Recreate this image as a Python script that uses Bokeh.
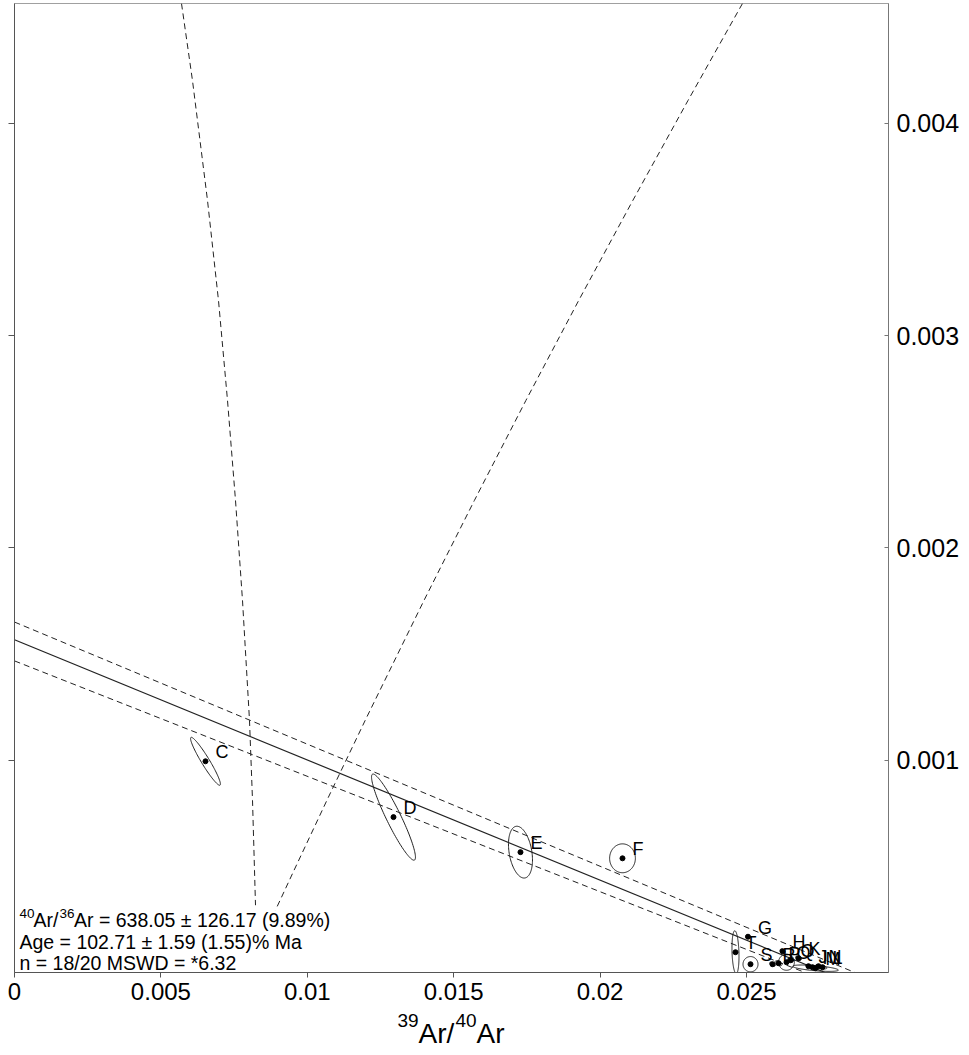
import numpy as np
from bokeh.plotting import figure
from bokeh.layouts import column
from bokeh.models import Range1d, LinearAxis, Label, FixedTicker
from bokeh.core.properties import value
from bokeh.embed import file_html
from bokeh.resources import INLINE

FONT = "Liberation Sans"

# ---- heating steps (inverse isochron, 39Ar/40Ar vs 36Ar/40Ar) ----
step_labels = ["C", "D", "E", "F", "G", "H", "I", "J", "K",
               "L", "M", "N", "O", "P", "Q", "R", "S", "T"]
ar39_ar40 = [0.006523, 0.012944, 0.017281, 0.020765, 0.025051, 0.026230,
             0.027254, 0.027117, 0.026776, 0.027596, 0.027357, 0.027459,
             0.026366, 0.026093, 0.026503, 0.025888, 0.025137, 0.024624]
ar36_ar40 = [0.000995, 0.000732, 0.000567, 0.000538, 0.0001686, 0.0001003,
             0.0000250, 0.0000297, 0.0000673, 0.0000250, 0.0000203, 0.0000297,
             0.0000485, 0.0000438, 0.0000579, 0.0000391, 0.0000391, 0.0000956]
err_39 = [0.00051, 0.00075, 0.00041, 0.00044, 0.00006, 0.00008,
          0.00010, 0.00010, 0.00010, 0.00015, 0.00078, 0.00010,
          0.00027, 0.00012, 0.00010, 0.00010, 0.000256, 0.00012]
err_36 = [0.000113, 0.000203, 0.000122, 0.000068, 0.000008, 0.000010,
          0.000008, 0.000008, 0.000010, 0.000008, 0.000015, 0.000008,
          0.000038, 0.000012, 0.000010, 0.000010, 0.000036, 0.000101]
err_rho = [-0.95, -0.93, -0.30, 0.0, -0.5, -0.5,
           -0.5, -0.5, -0.5, -0.5, -0.6, -0.5,
           0.0, -0.5, -0.5, -0.5, 0.0, -0.2]

# ---- isochron fit and its envelope ----
trapped_ratio = 638.05
x_intercept = 0.02769
upper_env_y0, upper_env_x0 = 0.001651, 0.0287
lower_env_y0, lower_env_x0 = 0.001468, 0.0270

# ---- dashed reference curves ----
curve_a_x = [0.005704, 0.006079, 0.006592, 0.006967, 0.007275, 0.007548,
             0.007787, 0.008026, 0.008129, 0.008197, 0.008231]
curve_a_y = [0.004565, 0.004202, 0.003637, 0.003166, 0.002695, 0.002224,
             0.001753, 0.001188, 0.000811, 0.000482, 0.000317]
curve_b_x = [0.024863, 0.023002, 0.021117, 0.019269, 0.017466, 0.015707,
             0.013986, 0.011978, 0.010669, 0.009549, 0.008914]
curve_b_y = [0.004565, 0.004108, 0.003637, 0.003166, 0.002695, 0.002224,
             0.001753, 0.001188, 0.000811, 0.000482, 0.000294]

# ---- axes ----
x_ticks = [0, 0.005, 0.01, 0.015, 0.02, 0.025]
x_tick_labels = ["0", "0.005", "0.01", "0.015", "0.02", "0.025"]
y_ticks = [0.001, 0.002, 0.003, 0.004]
y_tick_labels = ["0.001", "0.002", "0.003", "0.004"]

stats_lines = ["Ar = 638.05 \u00b1 126.17 (9.89%)",
               "Age = 102.71 \u00b1 1.59 (1.55)% Ma",
               "n = 18/20 MSWD = *6.32"]

# x-axis title pieces: (text, is_superscript)
x_title_parts = [("39", True), ("Ar/", False), ("40", True), ("Ar", False)]

X_END = 0.02985
p = figure(width=969, height=1010,
           x_range=Range1d(0, X_END), y_range=Range1d(0, 0.004565),
           output_backend="svg", toolbar_location=None,
           min_border_left=14, min_border_right=81,
           min_border_top=3, min_border_bottom=38)
p.background_fill_color = "white"
p.border_fill_color = "white"
p.outline_line_color = "#a0a0a0"
p.xgrid.visible = False
p.ygrid.visible = False

AX = "#555555"

xa = p.xaxis[0]
xa.ticker = FixedTicker(ticks=x_ticks)
xa.major_label_overrides = dict(zip(x_ticks, x_tick_labels))
xa.major_label_text_font = FONT
xa.major_label_text_font_size = "24px"
xa.major_label_text_color = "black"
xa.major_label_standoff = 5
xa.major_tick_out = 5
xa.major_tick_in = 0
xa.minor_tick_line_color = None
xa.axis_line_color = AX
xa.major_tick_line_color = AX

ya = p.yaxis[0]
ya.ticker = FixedTicker(ticks=y_ticks)
ya.major_label_overrides = {t: "" for t in y_ticks}
ya.major_label_standoff = 0
ya.major_tick_out = 6
ya.major_tick_in = 0
ya.minor_tick_line_color = None
ya.axis_line_color = AX
ya.major_tick_line_color = AX

ra = LinearAxis(ticker=FixedTicker(ticks=y_ticks))
ra.major_label_overrides = dict(zip(y_ticks, y_tick_labels))
ra.major_label_text_font = FONT
ra.major_label_text_font_size = "25px"
ra.major_label_text_color = "black"
ra.major_label_standoff = 8
ra.major_tick_out = 0
ra.major_tick_in = 4
ra.minor_tick_line_color = None
ra.axis_line_color = "#777777"
ra.major_tick_line_color = "#777777"
p.add_layout(ra, "right")

# reference curves
p.line(curve_a_x, curve_a_y, line_color="#222222", line_width=1, line_dash="6 4")
p.line(curve_b_x, curve_b_y, line_color="#222222", line_width=1, line_dash="6 4")

# isochron and envelope
p.line([0, x_intercept], [1.0 / trapped_ratio, 0], line_color="#222222", line_width=1.2)
p.line([0, upper_env_x0], [upper_env_y0, 0], line_color="#222222", line_width=1, line_dash="6 4")
p.line([0, lower_env_x0], [lower_env_y0, 0], line_color="#222222", line_width=1, line_dash="6 4")

# error ellipses
t = np.linspace(0, 2 * np.pi, 120)
xs, ys = [], []
for cx, cy, sx, sy, r in zip(ar39_ar40, ar36_ar40, err_39, err_36, err_rho):
    xs.append(list(cx + sx * np.cos(t)))
    ys.append(list(cy + sy * (r * np.cos(t) + np.sqrt(1 - r * r) * np.sin(t))))
p.patches(xs, ys, fill_color=None, line_color="#222222", line_width=1)

p.scatter(ar39_ar40, ar36_ar40, size=5, color="black")
p.text(ar39_ar40, ar36_ar40, text=step_labels, x_offset=10, y_offset=-9,
       text_font=value(FONT), text_font_size="18px", text_color="black",
       text_align="left", text_baseline="middle")

# fit statistics
SZ, SUP = "19.5px", "13.5px"
def stat_label(y, dx, text, size):
    p.add_layout(Label(x=0, y=y, x_offset=dx, text=text, text_font=FONT,
                       text_font_size=size, text_color="black",
                       text_baseline="middle"))

stat_label(0.0002797, 5, "40", SUP)
stat_label(0.0002466, 19, "Ar/", SZ)
stat_label(0.0002797, 45, "36", SUP)
stat_label(0.0002466, 59.5, stats_lines[0], SZ)
stat_label(0.000145, 5, stats_lines[1], SZ)
stat_label(0.0000448, 5, stats_lines[2], SZ)

# x-axis title strip, sharing the main plot's horizontal scale
tf = figure(frame_width=874, frame_height=45,
            x_range=p.x_range, y_range=Range1d(0, 45),
            output_backend="svg", toolbar_location=None,
            min_border_left=14, min_border_right=81,
            min_border_top=0, min_border_bottom=0)
tf.xaxis.visible = False
tf.yaxis.visible = False
tf.xgrid.visible = False
tf.ygrid.visible = False
tf.outline_line_color = None
tf.background_fill_color = "white"
tf.border_fill_color = "white"

# pixel offsets of each title piece from the left end of the x-range
part_dx = [383, 404, 441, 462]
for (txt, sup), dx in zip(x_title_parts, part_dx):
    tf.text([0], [35 if sup else 22], text=[txt], x_offset=dx,
            text_font=value(FONT),
            text_font_size="19px" if sup else "28px", text_color="black",
            text_align="left", text_baseline="middle")

layout = column(p, tf, spacing=0)
open("out.html", "w").write(file_html(layout, INLINE))
